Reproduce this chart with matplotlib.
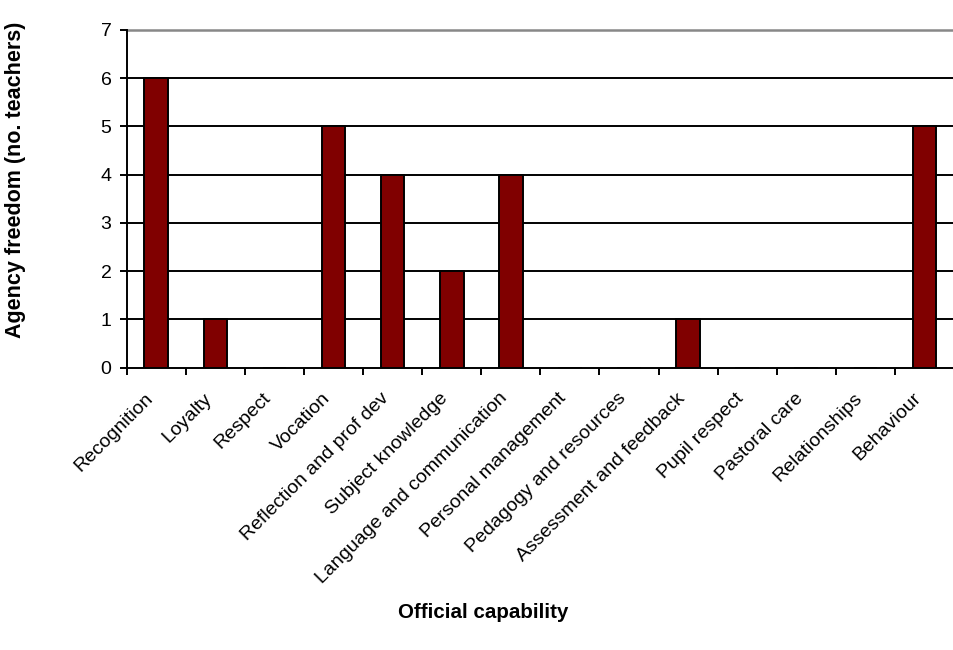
import matplotlib.pyplot as plt
import matplotlib.transforms as mtransforms
import numpy as np

plt.rcParams['font.family'] = ['Liberation Sans', 'DejaVu Sans']

categories = [
    "Recognition", "Loyalty", "Respect", "Vocation", "Reflection and prof dev",
    "Subject knowledge", "Language and communication", "Personal management",
    "Pedagogy and resources", "Assessment and feedback", "Pupil respect",
    "Pastoral care", "Relationships", "Behaviour",
]
teachers = [6, 1, 0, 5, 4, 2, 4, 0, 0, 1, 0, 0, 0, 5]

fig = plt.figure(figsize=(9.54, 6.5), dpi=100)
# axes runs off the right edge of the figure
ax = fig.add_axes([126.7 / 954, 1 - 367.7 / 650, (954 - 126.7) / 954, (367.7 - 30) / 650])

x = np.arange(len(categories))
ax.bar(x, teachers, width=0.4, color="#800000", edgecolor="black", linewidth=1.4, zorder=3)

ax.set_ylim(0, 7)
ax.set_xlim(-0.5, -0.5 + (954 - 126.7) / 60)
ax.set_yticks(range(8))
for v in range(1, 7):
    ax.axhline(v, color="black", linewidth=1.4, zorder=1)
ax.axhline(7, color="#888888", linewidth=1.8, zorder=1, clip_on=False)

# ticks sit between categories
ax.set_xticks(np.arange(len(categories) + 1) - 0.5)
ax.set_xticklabels([])
ax.tick_params(axis="x", length=5, width=1.4, direction="out")
ax.tick_params(axis="y", length=5, width=1.4, labelsize=14, pad=6)

# rotated category names under the bar centres
offset = mtransforms.ScaledTranslation(-6 / 100, -28 / 100, fig.dpi_scale_trans)
for xi, name in zip(x, categories):
    ax.text(xi, 0, name, transform=ax.get_xaxis_transform() + offset,
            rotation=45, rotation_mode="anchor", ha="right", va="center",
            fontsize=14)

for side in ["top", "right"]:
    ax.spines[side].set_visible(False)
for side in ["left", "bottom"]:
    ax.spines[side].set_linewidth(1.4)

fig.text(0.507, 0.058, "Official capability", ha="center", va="center",
         fontsize=14.8, fontweight="bold")
fig.text(0.016, 0.723, "Agency freedom (no. teachers)", ha="center", va="center",
         rotation=90, fontsize=15.5, fontweight="bold")

fig.savefig("out.png", dpi=100)
